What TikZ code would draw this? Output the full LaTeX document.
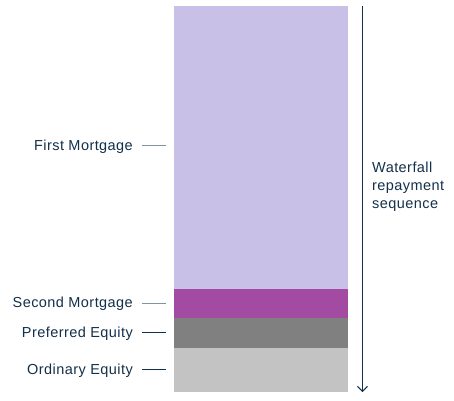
\documentclass[tikz,border=0pt]{standalone}
\usepackage{fontspec}
\setmainfont{Liberation Sans}[LetterSpace=3]
\usetikzlibrary{arrows.meta}
\definecolor{navy}{HTML}{12304A}
\definecolor{tickgray}{HTML}{7F949C}
\definecolor{lav}{HTML}{C8C0E6}
\definecolor{purp}{HTML}{A34BA3}
\definecolor{midgray}{HTML}{808080}
\definecolor{lightgray}{HTML}{C3C3C3}
\tikzset{
  lab/.style={anchor=east, text=navy, font=\fontsize{14.5}{17}\selectfont, inner sep=0pt},
  tickline/.style={line width=1pt},
}
\begin{document}
\begin{tikzpicture}[x=1pt,y=-1pt]
\useasboundingbox (0,0) rectangle (454,400);
% bar segments
\fill[lav] (174,6) rectangle (348,289);
\fill[purp] (174,289) rectangle (348,318);
\fill[midgray] (174,318) rectangle (348,348);
\fill[lightgray] (174,348) rectangle (348,392);
% labels
\node[lab] (l1) at (133,146.5) {First Mortgage};
\node[lab] (l2) at (133,303.5) {Second Mortgage};
\node[lab] (l3) at (133,333.5) {Preferred Equity};
\node[lab] (l4) at (133,370.5) {Ordinary Equity};
\coordinate (t1a) at (142,145.5); \coordinate (t1b) at (166,145.5);
\coordinate (t2a) at (142,303); \coordinate (t2b) at (166,303);
\coordinate (t3a) at (142,332); \coordinate (t3b) at (166,332);
\coordinate (t4a) at (142,369); \coordinate (t4b) at (166,369);
\draw[tickline, tickgray] (t1a) -- (t1b);
\draw[tickline, tickgray] (t2a) -- (t2b);
\draw[tickline, navy] (t3a) -- (t3b);
\draw[tickline, navy] (t4a) -- (t4b);
% arrow
\coordinate (atop) at (362.5,6);
\coordinate (abot) at (362.5,392);
\draw[navy, line width=1pt, -{Straight Barb[length=5pt, width=10pt]}] (atop) -- (abot);
\node[anchor=north west, text=navy, font=\fontsize{14.5}{18}\selectfont, align=left, inner sep=0pt] (wf) at (372,162) {Waterfall\\repayment\\sequence};
\end{tikzpicture}
\end{document}
